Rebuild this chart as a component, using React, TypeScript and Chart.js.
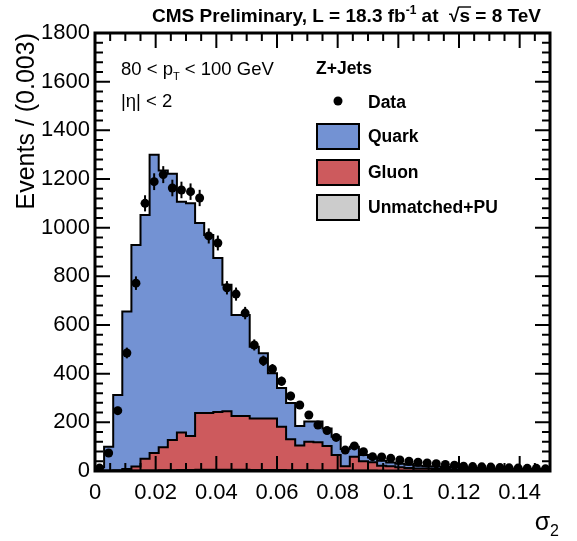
import React, { useEffect, useRef } from 'react';
import { Chart, registerables } from 'chart.js';

Chart.register(...registerables);

// ---- data (events per bin of width 0.003 in sigma_2) ----
const BIN_WIDTH = 0.003;
const X_MIN = 0;
const X_MAX = 0.15;
const Y_MIN = 0;
const Y_MAX = 1800;
const Y_STEP = 200;
const Y_MINOR = 40;
const X_MINOR = 0.005;
const X_TICKS = [0, 0.02, 0.04, 0.06, 0.08, 0.1, 0.12, 0.14];

const quark = [13, 98, 309, 647, 911, 1002, 1226, 1137, 1095, 949, 956, 781, 732, 633, 519, 415, 415, 295, 268, 186, 159, 149, 80, 83, 85, 72, 75, 70, 41, 26, 19, 20, 15, 15, 14, 12, 10, 10, 8, 9, 7, 7, 6, 6, 6, 6, 6, 5, 6, 5];
const gluon = [1, 1, 2, 7, 16, 47, 71, 94, 123, 153, 139, 232, 232, 236, 240, 220, 220, 211, 211, 211, 177, 126, 101, 116, 115, 100, 63, 17, 57, 38, 34, 21, 19, 14, 11, 9, 9, 7, 7, 5, 5, 4, 4, 3, 3, 2, 2, 2, 1, 1];
const unmatched = [1, 1, 1, 1, 2, 3, 3, 4, 4, 5, 5, 6, 6, 6, 6, 6, 6, 5, 5, 5, 5, 4, 4, 4, 3, 3, 3, 3, 2, 2, 2, 1, 1, 1, 1, 1, 1, 1, 1, 1, 1, 1, 1, 1, 1, 1, 1, 1, 1, 1];
const dataCounts = [12, 74, 248, 485, 772, 1100, 1189, 1218, 1163, 1155, 1148, 1122, 966, 937, 753, 727, 649, 518, 453, 419, 369, 308, 271, 230, 189, 166, 138, 86, 103, 79, 59, 58, 52, 45, 40, 36, 33, 30, 27, 24, 20, 18, 17, 16, 14, 13, 12, 11, 11, 9];

const FONT = '"Liberation Sans", Arial, Helvetica, sans-serif';
const COL_QUARK = '#7392d3';
const COL_GLUON = '#cd5a5d';
const COL_UNM = '#cccccc';

function histPoints(vals: number[]) {
  const pts = vals.map((v, i) => ({ x: i * BIN_WIDTH, y: v }));
  pts.push({ x: vals.length * BIN_WIDTH, y: vals[vals.length - 1] });
  return pts;
}

const errorBars = {
  id: 'errorBars',
  afterDatasetsDraw(chart: any) {
    const meta = chart.getDatasetMeta(0);
    const ys = chart.scales.y;
    const ctx = chart.ctx;
    ctx.save();
    ctx.strokeStyle = '#000';
    ctx.lineWidth = 2;
    meta.data.forEach((pt: any, i: number) => {
      const v = dataCounts[i];
      const e = Math.sqrt(v);
      ctx.beginPath();
      ctx.moveTo(pt.x, ys.getPixelForValue(Math.max(0, v - e)));
      ctx.lineTo(pt.x, ys.getPixelForValue(v + e));
      ctx.stroke();
    });
    ctx.restore();
  },
};

function drawRich(ctx: CanvasRenderingContext2D, parts: any[], x: number, y: number, align: 'left' | 'right') {
  let total = 0;
  for (const p of parts) {
    ctx.font = p.font;
    total += ctx.measureText(p.t).width;
  }
  let cx = align === 'right' ? x - total : x;
  ctx.textAlign = 'left';
  ctx.textBaseline = 'alphabetic';
  for (const p of parts) {
    ctx.font = p.font;
    const w = ctx.measureText(p.t).width;
    ctx.fillText(p.t, cx, y + (p.dy || 0));
    if (p.overline) {
      ctx.save();
      ctx.lineWidth = 1.4;
      ctx.beginPath();
      ctx.moveTo(cx - 1, y - p.overline);
      ctx.lineTo(cx + w + 1, y - p.overline);
      ctx.stroke();
      ctx.restore();
    }
    cx += w;
  }
}

const frameAndText = {
  id: 'frameAndText',
  afterDraw(chart: any) {
    const ctx: CanvasRenderingContext2D = chart.ctx;
    const { left, right, top, bottom } = chart.chartArea;
    const xs = chart.scales.x;
    const ys = chart.scales.y;
    ctx.save();
    ctx.strokeStyle = '#000';
    ctx.fillStyle = '#000';
    // inner ticks on all four sides
    ctx.lineWidth = 2;
    ctx.beginPath();
    for (let v = Y_MIN; v <= Y_MAX + 1e-6; v += Y_MINOR) {
      const y = ys.getPixelForValue(v);
      const len = Math.abs(v % Y_STEP) < 1e-6 ? 15 : 8;
      ctx.moveTo(left, y); ctx.lineTo(left + len, y);
      ctx.moveTo(right, y); ctx.lineTo(right - len, y);
    }
    const nx = Math.round((X_MAX - X_MIN) / X_MINOR);
    for (let k = 0; k <= nx; k++) {
      const v = X_MIN + k * X_MINOR;
      const x = xs.getPixelForValue(v);
      const len = k % 4 === 0 ? 15 : 8;
      ctx.moveTo(x, bottom); ctx.lineTo(x, bottom - len);
      ctx.moveTo(x, top); ctx.lineTo(x, top + len);
    }
    ctx.stroke();
    ctx.lineWidth = 3;
    ctx.strokeRect(left, top, right - left, bottom - top);

    // top title
    const tb = 'bold 19px ' + FONT;
    const tsup = 'bold 12px ' + FONT;
    drawRich(ctx, [
      { t: 'CMS Preliminary, L = 18.3 fb', font: tb },
      { t: '-1', font: tsup, dy: -8 },
      { t: ' at  \u221A', font: tb },
      { t: 's', font: tb, overline: 15 },
      { t: ' = 8 TeV', font: tb },
    ], 541, 22, 'right');

    // x axis label sigma_2
    drawRich(ctx, [
      { t: '\u03C3', font: '25px ' + FONT },
      { t: '2', font: '16px ' + FONT, dy: 6 },
    ], 559, 530, 'right');

    // kinematic cuts
    const kf = '18.5px ' + FONT;
    drawRich(ctx, [
      { t: '80 < p', font: kf },
      { t: 'T', font: '11px ' + FONT, dy: 5 },
      { t: ' < 100 GeV', font: kf },
    ], 121, 75, 'left');
    drawRich(ctx, [{ t: '|\u03B7| < 2', font: kf }], 121, 107, 'left');

    // legend
    const lf = 'bold 17.5px ' + FONT;
    ctx.font = lf;
    ctx.textBaseline = 'middle';
    ctx.textAlign = 'left';
    ctx.fillText('Z+Jets', 316, 69);
    ctx.beginPath();
    ctx.arc(338, 101, 4.5, 0, Math.PI * 2);
    ctx.fill();
    ctx.fillText('Data', 368, 103);
    const boxes = [
      { c: COL_QUARK, y: 124, label: 'Quark' },
      { c: COL_GLUON, y: 160, label: 'Gluon' },
      { c: COL_UNM, y: 195, label: 'Unmatched+PU' },
    ];
    for (const b of boxes) {
      ctx.fillStyle = b.c;
      ctx.fillRect(317, b.y, 42, 25);
      ctx.lineWidth = 2;
      ctx.strokeStyle = '#000';
      ctx.strokeRect(317, b.y, 42, 25);
      ctx.fillStyle = '#000';
      ctx.fillText(b.label, 368, b.y + 13);
    }
    ctx.restore();
  },
};

export default function App() {
  const ref = useRef<HTMLCanvasElement | null>(null);
  useEffect(() => {
    document.body.style.margin = '0';
    const canvas = ref.current;
    if (!canvas) return;
    const chart = new Chart(canvas, {
      type: 'line',
      data: {
        datasets: [
          {
            type: 'scatter',
            label: 'Data',
            data: dataCounts.map((v, i) => ({ x: (i + 0.5) * BIN_WIDTH, y: v })),
            stack: 'data',
            pointRadius: 4.5,
            pointBackgroundColor: '#000',
            pointBorderWidth: 0,
            showLine: false,
          } as any,
          {
            label: 'Unmatched+PU',
            data: histPoints(unmatched),
            stack: 'mc',
            stepped: 'before',
            fill: 'origin',
            backgroundColor: COL_UNM,
            borderColor: '#000',
            borderWidth: 1.5,
            pointRadius: 0,
          },
          {
            label: 'Gluon',
            data: histPoints(gluon),
            stack: 'mc',
            stepped: 'before',
            fill: '-1',
            backgroundColor: COL_GLUON,
            borderColor: '#000',
            borderWidth: 2,
            pointRadius: 0,
          },
          {
            label: 'Quark',
            data: histPoints(quark),
            stack: 'mc',
            stepped: 'before',
            fill: '-1',
            backgroundColor: COL_QUARK,
            borderColor: '#000',
            borderWidth: 2,
            pointRadius: 0,
          },
        ],
      },
      options: {
        animation: false,
        responsive: false,
        devicePixelRatio: 1,
        layout: { padding: { left: 0, right: 27, top: 33, bottom: 0 } },
        plugins: { legend: { display: false }, tooltip: { enabled: false }, title: { display: false } },
        scales: {
          x: {
            type: 'linear',
            min: X_MIN,
            max: X_MAX,
            grid: { display: false, drawTicks: false },
            border: { display: false },
            afterBuildTicks: (s: any) => { s.ticks = X_TICKS.map((v) => ({ value: v })); },
            ticks: {
              autoSkip: false,
              maxRotation: 0,
              padding: 9,
              color: '#000',
              font: { family: FONT, size: 22 },
              callback: (v: any) => String(+Number(v).toFixed(3)),
            },
            afterFit: (s: any) => { s.height = 70; },
          },
          y: {
            type: 'linear',
            stacked: true,
            min: Y_MIN,
            max: Y_MAX,
            grid: { display: false, drawTicks: false },
            border: { display: false },
            ticks: {
              stepSize: Y_STEP,
              padding: 5,
              color: '#000',
              font: { family: FONT, size: 22 },
              callback: (v: any) => String(v),
            },
            title: {
              display: true,
              text: 'Events / (0.003)',
              align: 'end',
              color: '#000',
              font: { family: FONT, size: 25 },
              padding: { top: 12, bottom: 0 },
            },
            afterFit: (s: any) => { s.width = 95; },
          },
        },
      },
      plugins: [errorBars, frameAndText],
    });
    return () => chart.destroy();
  }, []);
  return (
    <div style={{ width: 577, height: 541 }}>
      <canvas ref={ref} width={577} height={541} />
    </div>
  );
}
